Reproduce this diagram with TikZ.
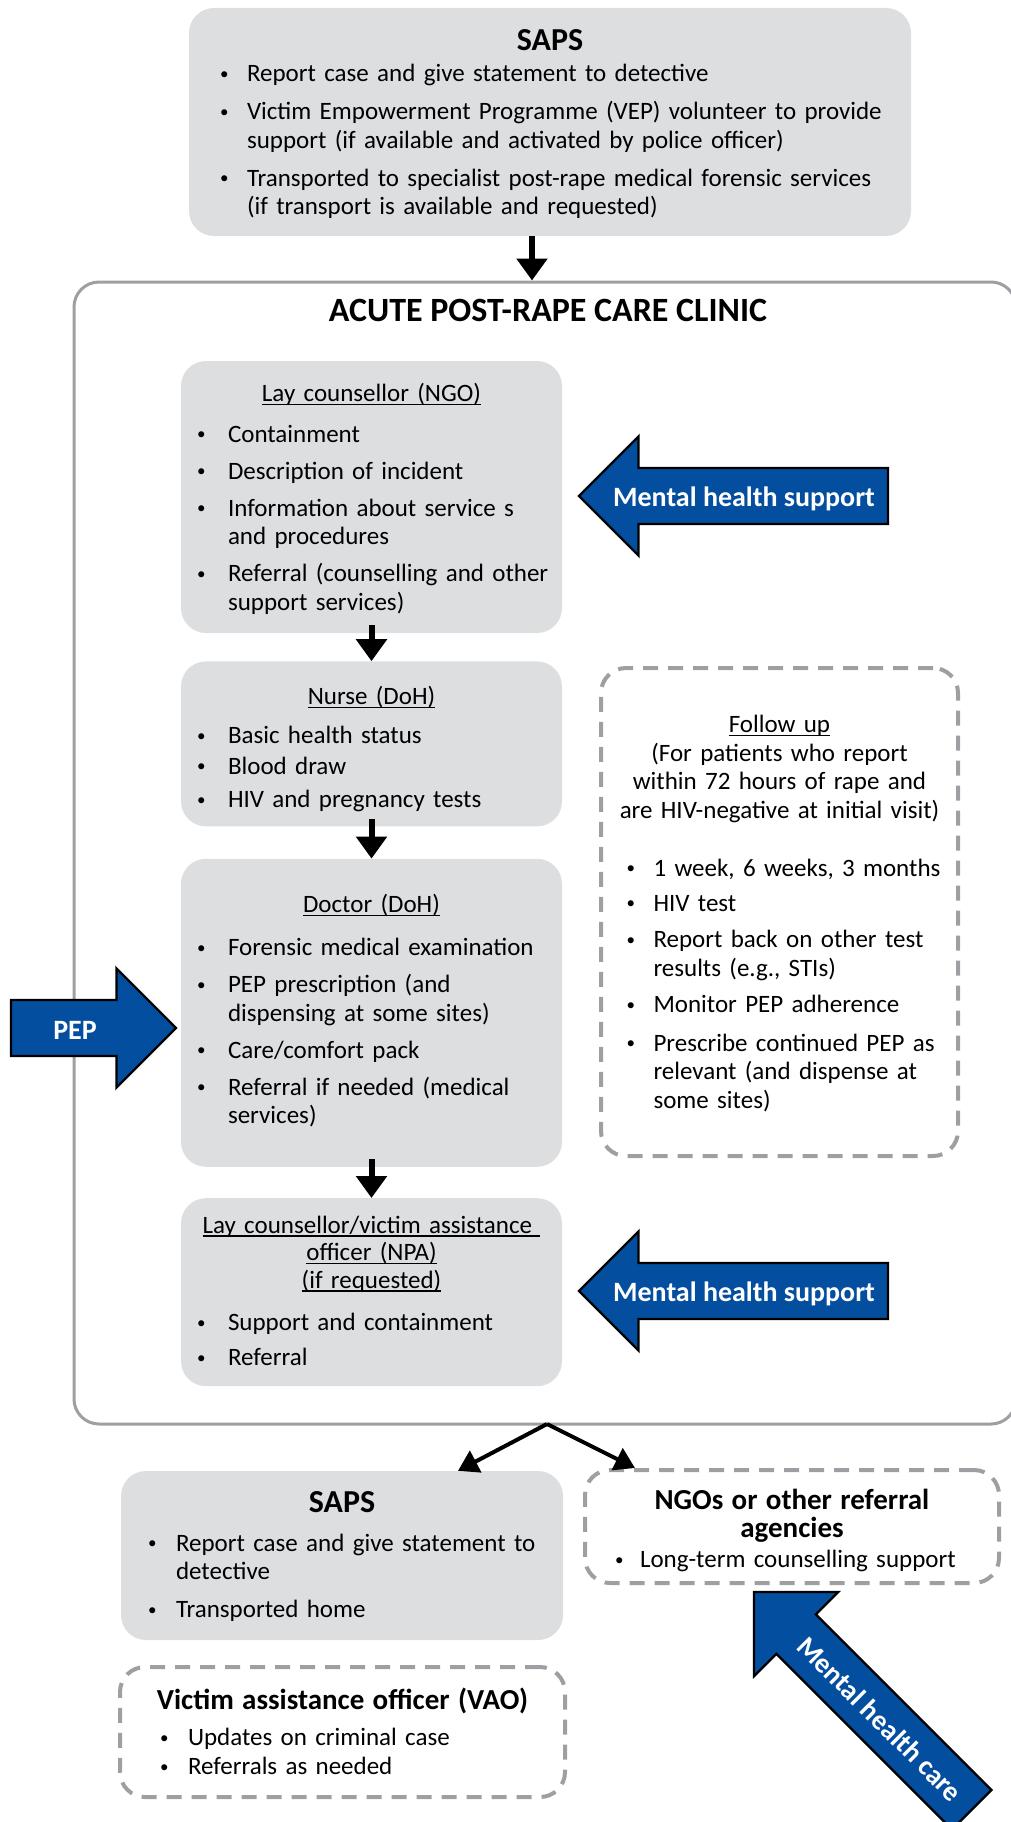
\documentclass[tikz,border=0pt]{standalone}
\usepackage{fontspec}
\setmainfont{Carlito}
\usetikzlibrary{positioning,arrows.meta}
\definecolor{boxgray}{RGB}{221,222,224}
\definecolor{linegray}{RGB}{158,159,163}
\definecolor{pepblue}{RGB}{4,78,160}
\newcommand{\bodyfont}{\fontsize{25}{28.5}\selectfont}
\newcommand{\titlefont}{\fontsize{29}{29}\selectfont\bfseries}
\newcommand{\labelfont}{\fontsize{28}{28}\selectfont\bfseries}
\newlength{\bulw}
\newcommand{\undl}[1]{\setbox0=\hbox{#1}\rlap{\rule[-3.5pt]{\wd0}{1.5pt}}\box0}
\newcommand{\headline}[1]{\par\noindent\makebox[\hsize][c]{#1}\par}
\newcommand{\bul}[2][8.5pt]{\par\vspace{#1}\rightskip=0pt plus 1fil minus 30pt\relax
  \hangindent=\bulw\hangafter=1\noindent\makebox[\bulw][l]{\raisebox{2.5pt}{\fontsize{17}{17}\selectfont\textbullet}}#2\par}
\newcommand{\pad}[1]{\par\nointerlineskip\noindent\rule{0pt}{#1}\par}
\begin{document}
\begin{tikzpicture}[x=1pt, y=1pt, font=\bodyfont, line join=round,
  graybox/.style={rounded corners=25pt, fill=boxgray, inner sep=0pt, execute at begin node={\setlength{\bulw}{#1}}},
  graybox/.default=28pt,
  colbox/.style={graybox=31pt, minimum width=381pt, text width=349pt},
  dashbox/.style={rounded corners=25pt, draw=linegray, line width=4pt, dash pattern=on 15pt off 10pt, inner sep=0pt, execute at begin node={\setlength{\bulw}{#1}}},
  dashbox/.default=28pt,
  flow/.style={-{Triangle[length=22pt,width=30pt]}, line width=6pt},
  fork/.style={-{Triangle[length=20pt,width=24pt]}, line width=4pt},
  fatarrow/.style={insert path={(0,0) -- (-59.5,59.5) -- (-59.5,28) -- (-#1,28) -- (-#1,-28) -- (-59.5,-28) -- (-59.5,-59.5) -- cycle}},
  bluearrow/.style={fill=pepblue, draw=black, line width=2.3pt, line join=miter},
  arrowlabel/.style={text=white, font=\labelfont, inner sep=0pt}]
	\useasboundingbox (0,0) rectangle (1011,-1822);
	\clip (0,0) rectangle (1011,-1822);
	% police at the start
	\node[graybox=27pt, minimum width=722pt, minimum height=228pt, text width=660pt] (sapsa) at (550,-122) {
		\headline{\titlefont\fontsize{32}{32}\selectfont SAPS}
		\bul[3pt]{Report case and give statement to detective}
		\bul[9.5pt]{Victim Empowerment Programme (VEP) volunteer to provide\newline support (if available and activated by police officer)}
		\bul[9.5pt]{Transported to specialist post-rape medical forensic services\newline (if transport is available and requested)}
		\pad{3pt}};
	% clinic frame
	\node[draw=linegray, line width=3pt, rounded corners=25pt, minimum width=942pt, minimum height=1142pt, inner sep=0pt] (clinic) at (545,-853) {};
	\node[font=\fontsize{34}{34}\selectfont\bfseries, anchor=base] (clinictitle) at (548,-321) {ACUTE POST-RAPE CARE CLINIC};
	\draw[flow] ([xshift=-18pt]sapsa.south) -- ([xshift=-18pt]sapsa.south |- clinic.north);
	% steps in the clinic
	\node[colbox, minimum height=272pt] (lay) at (371.5,-497) {
		\headline{\undl{Lay counsellor (NGO)}}
		\bul[12pt]{Containment}
		\bul{Description of incident}
		\bul{Information about service s\newline and procedures}
		\bul{Referral (counselling and other\newline support services)}
		\pad{6pt}};
	\node[colbox, minimum height=165pt, below=28pt of lay] (nurse) {
		\headline{\undl{Nurse (DoH)}}
		\bul[10.5pt]{Basic health status}
		\bul[2pt]{Blood draw}
		\bul[5pt]{HIV and pregnancy tests}};
	\node[colbox, minimum height=308pt, below=32pt of nurse] (doctor) {
		\headline{\undl{Doctor (DoH)}}
		\bul[14.5pt]{Forensic medical examination}
		\bul{PEP prescription (and\newline dispensing at some sites)}
		\bul{Care/comfort pack}
		\bul{Referral if needed (medical\newline services)}
		\pad{14pt}};
	\node[colbox, minimum height=188pt, below=31pt of doctor] (npa) {
		{\baselineskip=27.5pt
		\headline{\undl{Lay counsellor/victim assistance\ }}
		\headline{\undl{officer (NPA)}}
		\headline{\undl{(if requested)}}}
		\bul[14pt]{Support and containment}
		\bul[6.5pt]{Referral}
		\pad{13pt}};
	\draw[flow] ([yshift=8pt]lay.south) -- (nurse.north);
	\draw[flow] ([yshift=8pt]nurse.south) -- (doctor.north);
	\draw[flow] ([yshift=8pt]doctor.south) -- (npa.north);
	% follow up
	\node[dashbox=27pt, minimum width=357pt, minimum height=488pt, text width=306pt] (follow) at (779.5,-912) {
		\headline{\undl{Follow up}}
		\headline{(For patients who report}
		\headline{within 72 hours of rape and}
		\headline{are HIV-negative at initial visit)}
		\bul[29.5pt]{1 week, 6 weeks, 3 months}
		\bul[6.5pt]{HIV test}
		\bul[8pt]{Report back on other test\newline results (e.g., STIs)}
		\bul[8pt]{Monitor PEP adherence}
		\bul[10pt]{Prescribe continued PEP as\newline relevant (and dispense at\newline some sites)}
		\pad{8pt}};
	% blue arrows
	\draw[bluearrow, shift={(579,-496)}, rotate=180, fatarrow=309];
	\node[arrowlabel, anchor=base] (mhsa) at (744,-506) {Mental health support};
	\draw[bluearrow, shift={(579,-1291)}, rotate=180, fatarrow=309];
	\node[arrowlabel, anchor=base] (mhsb) at (744,-1301) {Mental health support};
	\draw[bluearrow, shift={(176,-1028)}, fatarrow=165];
	\node[arrowlabel, anchor=base] (pep) at (75,-1039) {PEP};
	% after the clinic
	\node[graybox=28pt, minimum width=442pt, minimum height=169pt, text width=388pt] (sapsb) at (342,-1555.5) {
		\headline{\titlefont\fontsize{32}{32}\selectfont SAPS}
		\bul[10.5pt]{Report case and give statement to\newline detective}
		\bul[9.5pt]{Transported home}
		\pad{6pt}};
	\node[dashbox=25pt, minimum width=414pt, minimum height=113pt, text width=354pt] (ngo) at (792,-1526.5) {
		{\baselineskip=28pt
		\headline{\titlefont NGOs or other referral}
		\headline{\titlefont agencies}}
		\bul[2pt]{Long-term counselling support}};
	\node[dashbox=28pt, minimum width=445pt, minimum height=130pt, text width=365pt] (vao) at (342.5,-1732) {
		\headline{\titlefont Victim assistance officer (VAO)}
		\bul[7.5pt]{Updates on criminal case}
		\bul[0.5pt]{Referrals as needed}
		\pad{8pt}};
	\coordinate (fork) at (547,-1424);
	\draw[fork] (fork) -- ([xshift=116pt]sapsb.north);
	\draw[fork] (fork) -- ([xshift=-157pt]ngo.north);
	\draw[bluearrow, shift={(754,-1592)}, rotate=135, fatarrow=308];
	\node[arrowlabel, rotate=-45] (mhc) at (880,-1719) {Mental health care};
\end{tikzpicture}
\end{document}
